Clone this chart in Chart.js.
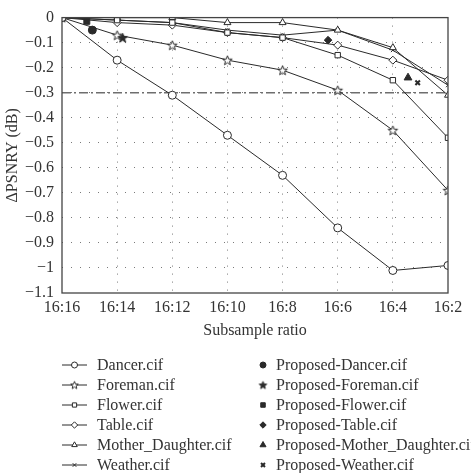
<!DOCTYPE html>
<html><head><meta charset="utf-8">
<script src="https://cdn.jsdelivr.net/npm/chart.js@4"></script>
<style>html,body{margin:0;padding:0;background:#fff;} canvas{display:block;}</style>
</head><body>
<canvas id="c" width="471" height="473"></canvas>
<script>
// ---- data ----
const ratios = [16, 14, 12, 10, 8, 6, 4, 2];
const xTickLabels = ['16:16', '16:14', '16:12', '16:10', '16:8', '16:6', '16:4', '16:2'];
const seriesNames = ['Dancer.cif', 'Foreman.cif', 'Flower.cif', 'Table.cif', 'Mother_Daughter.cif', 'Weather.cif'];
const dancer = [0, -0.17, -0.31, -0.47, -0.63, -0.84, -1.01, -0.99];
const foreman = [0, -0.07, -0.11, -0.17, -0.21, -0.29, -0.45, -0.69];
const flower = [0, -0.01, -0.02, -0.06, -0.08, -0.15, -0.25, -0.48];
const table = [0, -0.02, -0.03, -0.06, -0.08, -0.11, -0.17, -0.25];
const motherDaughter = [0, 0, 0, -0.02, -0.02, -0.05, -0.12, -0.31];
const weather = [0, -0.01, -0.02, -0.05, -0.07, -0.05, -0.13, -0.27];
const proposedNames = ['Proposed-Dancer.cif', 'Proposed-Foreman.cif', 'Proposed-Flower.cif', 'Proposed-Table.cif', 'Proposed-Mother_Daughter.cif', 'Proposed-Weather.cif'];
const proposedX = [14.9, 13.8, 15.1, 6.35, 3.45, 3.1];
const proposedY = [-0.05, -0.08, -0.015, -0.09, -0.24, -0.26];
const thresholdX = [16, 2];
const thresholdY = [-0.3, -0.3];
const yTickLabels = ['0', '\u22120.1', '\u22120.2', '\u22120.3', '\u22120.4', '\u22120.5', '\u22120.6', '\u22120.7', '\u22120.8', '\u22120.9', '\u22121', '\u22121.1'];

// ---- styles ----
const INK = '#2a2a2a';
const FONT = '"Liberation Serif", "Times New Roman", serif';
const FS = 16;

function starCanvas(R, filled) {
  const s = Math.ceil(R * 2 + 3);
  const c = document.createElement('canvas');
  c.width = s; c.height = s;
  const g = c.getContext('2d');
  const cx = s / 2, cy = s / 2 + R * 0.1;
  g.beginPath();
  for (let i = 0; i < 10; i++) {
    const r = i % 2 === 0 ? R : R * 0.42;
    const a = -Math.PI / 2 + i * Math.PI / 5;
    const px = cx + r * Math.cos(a), py = cy + r * Math.sin(a);
    if (i === 0) g.moveTo(px, py); else g.lineTo(px, py);
  }
  g.closePath();
  g.fillStyle = filled ? INK : '#fff';
  g.fill();
  g.lineWidth = 1;
  g.strokeStyle = INK;
  g.stroke();
  return c;
}
const openStar = starCanvas(5, false);
const openStarSmall = starCanvas(4, false);
const filledStar = starCanvas(5, true);
const filledStarSmall = starCanvas(4, true);

const seriesValues = [dancer, foreman, flower, table, motherDaughter, weather];
const seriesStyles = [
  {ps: 'circle', r: 4, lr: 3},
  {ps: openStar, r: 5, lr: 4, legendPs: openStarSmall},
  {ps: 'rect', r: 3.8, lr: 3},
  {ps: 'rectRot', r: 4, lr: 3.2},
  {ps: 'triangle', r: 4, lr: 3.2},
  {ps: 'crossRot', r: 2.8, lr: 2.5}
];
const propStyles = [
  {ps: 'circle', r: 4, lr: 3, bw: 1},
  {ps: filledStar, r: 5, lr: 4, legendPs: filledStarSmall, bw: 1},
  {ps: 'rect', r: 4.2, lr: 3.2, bw: 1},
  {ps: 'rectRot', r: 3.8, lr: 3.2, bw: 1},
  {ps: 'triangle', r: 4.5, lr: 3.5, bw: 1},
  {ps: 'crossRot', r: 3.2, lr: 2.8, bw: 2}
];

const datasets = [];
seriesValues.forEach((vals, i) => {
  const st = seriesStyles[i];
  datasets.push({
    label: seriesNames[i],
    kind: 'series',
    styleRef: st,
    data: ratios.map((x, j) => ({x: x, y: vals[j]})),
    borderColor: INK,
    borderWidth: 1,
    pointStyle: st.ps,
    pointRadius: st.r,
    pointBackgroundColor: '#fff',
    pointBorderColor: INK,
    pointBorderWidth: 1,
    tension: 0,
    order: 2
  });
});
proposedX.forEach((x, i) => {
  const st = propStyles[i];
  datasets.push({
    label: proposedNames[i],
    kind: 'proposed',
    styleRef: st,
    data: [{x: x, y: proposedY[i]}],
    showLine: false,
    borderColor: INK,
    pointStyle: st.ps,
    pointRadius: st.r,
    pointBackgroundColor: INK,
    pointBorderColor: INK,
    pointBorderWidth: st.bw,
    order: 1
  });
});
datasets.push({
  label: 'threshold',
  kind: 'threshold',
  data: thresholdX.map((x, j) => ({x: x, y: thresholdY[j]})),
  borderColor: '#6e6e6e',
  borderWidth: 1.6,
  borderDash: [9, 3, 2, 3],
  pointRadius: 0,
  order: 3
});

const framePlugin = {
  id: 'frame',
  afterDatasetsDraw(chart) {
    const {ctx, chartArea: a} = chart;
    ctx.save();
    ctx.strokeStyle = '#444';
    ctx.lineWidth = 1.3;
    ctx.strokeRect(a.left, a.top, a.right - a.left, a.bottom - a.top);
    ctx.restore();
  }
};

const legendPlugin = {
  id: 'customLegend',
  afterDraw(chart) {
    const ctx = chart.ctx;
    const a = chart.chartArea;
    const y0 = a.bottom + 72;
    ctx.save();
    ctx.font = FS + 'px ' + FONT;
    ctx.textBaseline = 'middle';
    ctx.fillStyle = '#333';
    const series = chart.data.datasets.filter(d => d.kind === 'series');
    const props = chart.data.datasets.filter(d => d.kind === 'proposed');
    series.forEach((d, i) => {
      const y = y0 + i * 20;
      ctx.strokeStyle = INK; ctx.lineWidth = 1;
      ctx.beginPath(); ctx.moveTo(62, y); ctx.lineTo(87, y); ctx.stroke();
      ctx.fillStyle = '#fff';
      Chart.helpers.drawPoint(ctx, {pointStyle: d.styleRef.legendPs || d.styleRef.ps, radius: d.styleRef.lr, rotation: 0, borderWidth: 1}, 74.5, y);
      ctx.fillStyle = '#333';
      ctx.fillText(d.label, 97, y + 1);
    });
    props.forEach((d, i) => {
      const y = y0 + i * 20;
      ctx.strokeStyle = INK; ctx.fillStyle = INK;
      ctx.lineWidth = d.styleRef.bw;
      Chart.helpers.drawPoint(ctx, {pointStyle: d.styleRef.legendPs || d.styleRef.ps, radius: d.styleRef.lr, rotation: 0, borderWidth: d.styleRef.bw}, 263, y);
      ctx.fillStyle = '#333';
      ctx.fillText(d.label, 276, y + 1);
    });
    ctx.restore();
  }
};

function isEdge(v, lo, hi) { return Math.abs(v - lo) < 1e-6 || Math.abs(v - hi) < 1e-6; }

new Chart(document.getElementById('c'), {
  type: 'line',
  data: {datasets: datasets},
  options: {
    responsive: false,
    animation: false,
    devicePixelRatio: 1,
    layout: {padding: {left: 0, top: 14, right: 23, bottom: 133}},
    plugins: {legend: {display: false}, tooltip: {enabled: false}},
    scales: {
      x: {
        type: 'linear',
        reverse: true,
        min: 2, max: 16,
        afterFit(s) { s.height = 47; },
        afterBuildTicks(s) { s.ticks = ratios.map(v => ({value: v})); },
        ticks: {
          padding: 5,
          color: '#333',
          font: {family: FONT, size: FS},
          maxRotation: 0,
          autoSkip: false,
          callback: v => xTickLabels[ratios.indexOf(v)]
        },
        grid: {
          drawTicks: false,
          lineWidth: 1,
          color: c => (c.tick && isEdge(c.tick.value, 2, 16)) ? 'rgba(0,0,0,0)' : '#7a7a7a'
        },
        border: {display: false, dash: [1, 7]},
        title: {display: true, text: 'Subsample ratio', color: '#333', font: {family: FONT, size: FS}, padding: 0}
      },
      y: {
        min: -1.1, max: 0,
        afterFit(s) { s.width = 62; },
        afterBuildTicks(s) { s.ticks = yTickLabels.map((t, i) => ({value: -i / 10})); },
        ticks: {
          padding: 8,
          color: '#333',
          font: {family: FONT, size: FS},
          autoSkip: false,
          callback: (v, i) => yTickLabels[Math.round(-v * 10)]
        },
        grid: {
          drawTicks: false,
          lineWidth: 1,
          color: c => (c.tick && isEdge(c.tick.value, -1.1, 0)) ? 'rgba(0,0,0,0)' : '#7a7a7a'
        },
        border: {display: false, dash: [1, 8]},
        title: {display: true, text: '\u0394PSNRY (dB)', color: '#333', font: {family: FONT, size: FS}, padding: {top: 3, bottom: 0}}
      }
    }
  },
  plugins: [framePlugin, legendPlugin]
});
</script>
</body></html>
